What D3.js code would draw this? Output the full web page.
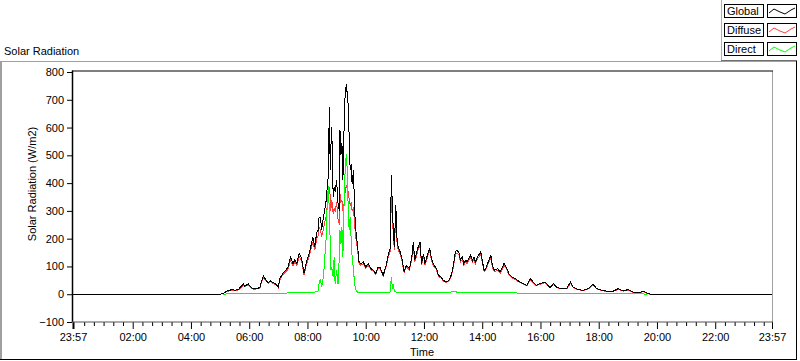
<!DOCTYPE html>
<html><head><meta charset="utf-8">
<script src="https://cdn.jsdelivr.net/npm/d3@7"></script>
<style>
html,body{margin:0;padding:0;background:#fff;}
svg{display:block;font-family:"Liberation Sans",Arial,sans-serif;font-size:11px;}
</style></head>
<body><svg id="c" width="800" height="361"></svg>
<script>
// time in minutes after midnight (-3 = 23:57 previous day)
const times = [-3,300,306,314,320,324,331,338,344,348,351,358,363,368,375,382,386,389,395,399,404,410,415,420,423,429,436,440,445,450,454,458,463,468,473,478,485,491,495,499,502,504,507,509,513,516,518,520,521,523,525,527,528,530,533,535,537,540,543,546,547,549,551,553,555,557,560,562,564,566,568,570,572,575,577,579,581,583,586,590,595,600,605,611,616,621,625,629,636,643,647,650,653,655,657,659,662,665,670,674,679,684,690,695,698,701,708,712,715,719,722,726,729,732,735,739,746,750,755,760,766,771,776,780,784,787,792,795,799,802,806,809,816,820,823,826,830,837,840,844,847,851,858,861,865,872,877,882,885,891,895,902,908,913,918,925,932,939,945,952,959,969,980,987,994,1004,1014,1022,1028,1038,1048,1059,1068,1076,1086,1097,1110,1120,1131,1141,1151,1162,1172,1179,1186,1437];
const globalVals = [0,0,3,11,14,17,14,18,29,38,29,38,26,20,20,24,50,66,50,41,48,41,36,26,56,74,88,98,134,110,124,110,147,128,75,116,156,206,170,222,230,278,278,230,278,310,330,362,400,420,675,446,520,602,350,386,370,410,326,300,590,500,545,410,566,700,758,720,680,560,446,470,398,446,302,254,200,182,118,110,116,98,110,92,86,74,98,98,68,110,147,158,430,300,230,170,320,180,158,134,82,104,92,134,188,122,170,188,110,146,110,134,152,164,134,110,92,68,62,50,44,50,68,98,146,158,152,122,134,110,122,116,140,122,134,116,134,152,122,86,92,110,140,104,86,92,80,98,113,92,74,62,56,50,44,38,32,56,44,32,38,44,24,38,24,20,20,44,24,17,14,20,36,20,14,11,11,20,12,17,8,5,11,5,0,0];
const diffuseVals = [0,0,2,9,12,15,12,16,26,34,27,33,24,18,19,22,46,60,47,39,45,38,34,24,52,69,82,90,122,102,115,104,136,120,70,108,145,188,158,200,212,240,232,206,236,262,275,300,330,345,385,350,300,340,290,310,300,330,270,250,360,330,340,300,320,360,390,380,370,340,320,330,300,310,250,220,180,168,112,104,110,93,104,88,82,70,93,94,65,104,138,146,350,275,212,160,290,168,148,127,78,99,87,126,176,115,160,176,104,138,105,127,144,155,127,104,87,64,59,47,42,47,64,92,136,148,143,115,126,104,115,110,132,115,126,110,126,143,115,81,87,104,132,98,81,87,76,92,106,87,70,59,53,47,42,36,30,52,41,30,36,41,23,35,23,19,19,40,23,16,13,19,33,19,13,10,10,18,11,15,7,4,9,4,0,0];
const directVals = [null,null,0,1,1,1,1,1,1,1,1,1,1,1,1,1,1,2,2,2,2,2,2,2,2,2,3,6,6,6,6,6,6,6,6,7,7,8,8,10,12,38,56,25,62,140,182,290,330,390,300,182,86,98,62,134,36,86,38,150,230,182,242,134,300,422,505,446,302,230,278,200,134,86,38,20,12,8,7,7,6,6,6,6,6,6,6,6,6,6,7,8,62,20,38,10,8,8,7,6,6,6,6,6,6,6,6,6,6,6,6,6,6,6,6,6,6,6,6,6,6,6,8,9,10,8,7,7,7,7,7,7,7,7,7,7,7,7,7,6,6,6,6,6,6,6,6,6,6,6,6,6,6,4,2,2,2,2,2,2,2,2,2,2,2,2,2,2,2,1,1,1,1,1,1,1,1,1,1,1,1,1,1,0,null];
const seriesNames = ["Global","Diffuse","Direct"];
const seriesColors = ["#000000","#ff3b3b","#00ff00"];
const yTicks = [-100,0,100,200,300,400,500,600,700,800];
const xTickVals = [-3,120,240,360,480,600,720,840,960,1080,1200,1320,1437];
const xTickLabels = ["23:57","02:00","04:00","06:00","08:00","10:00","12:00","14:00","16:00","18:00","20:00","22:00","23:57"];
const minorTicks = d3.range(20,1437,20).filter(m => m % 120 !== 0);

const svg = d3.select("#c");
const W = 800, H = 361;
const x = d3.scaleLinear().domain([-3,1437]).range([73,772]);
const y = d3.scaleLinear().domain([-100,800]).range([322,72]);

// outer panel
svg.append("rect").attr("x",0).attr("y",0).attr("width",W).attr("height",H).attr("fill","#fff");
svg.append("line").attr("x1",1).attr("x2",1).attr("y1",61).attr("y2",360).attr("stroke","#a0a0a0").attr("stroke-width",2);
svg.append("line").attr("x1",0).attr("x2",797).attr("y1",61.5).attr("y2",61.5).attr("stroke","#a0a0a0");
svg.append("line").attr("x1",796.5).attr("x2",796.5).attr("y1",61).attr("y2",360).attr("stroke","#000");
svg.append("line").attr("x1",0).attr("x2",797).attr("y1",359.5).attr("y2",359.5).attr("stroke","#000");

// title
svg.append("text").attr("x",4).attr("y",55).text("Solar Radiation").attr("fill","#000");

// plot frame
const g = svg.append("g");
g.append("rect").attr("x",73).attr("y",71).attr("width",699).attr("height",251).attr("fill","#fff");
g.append("line").attr("x1",772.5).attr("x2",772.5).attr("y1",71).attr("y2",322).attr("stroke","#a0a0a0");

// data lines (clip)
svg.append("clipPath").attr("id","clip").append("rect").attr("x",73).attr("y",71).attr("width",700).attr("height",251);
const plot = svg.append("g").attr("clip-path","url(#clip)");
const mk = vals => d3.line().defined((d,i)=>vals[i]!==null).x((d,i)=>x(times[i])).y((d,i)=>y(vals[i]))(times);
plot.append("path").attr("d",mk(diffuseVals)).attr("fill","none").attr("stroke",seriesColors[1]).attr("stroke-width",1).attr("shape-rendering","crispEdges");
plot.append("path").attr("d",mk(globalVals)).attr("fill","none").attr("stroke",seriesColors[0]).attr("stroke-width",1).attr("shape-rendering","crispEdges");
plot.append("path").attr("d",mk(directVals)).attr("fill","none").attr("stroke",seriesColors[2]).attr("stroke-width",1).attr("shape-rendering","crispEdges");

// axes
const yAxis = d3.axisLeft(y).tickValues(yTicks).tickSize(5).tickPadding(3).tickSizeOuter(0);
const ya = svg.append("g").attr("transform","translate(72,0)").call(yAxis);
ya.select(".domain").remove();
ya.selectAll("text").attr("font-size",11).attr("font-family","Liberation Sans, Arial, sans-serif").attr("fill","#000");
svg.append("line").attr("x1",72.5).attr("x2",72.5).attr("y1",70.5).attr("y2",322).attr("stroke","#000").attr("stroke-width",1.5);
svg.append("line").attr("x1",72).attr("x2",773).attr("y1",71).attr("y2",71).attr("stroke","#000");

const xAxis = d3.axisBottom(x).tickValues(xTickVals).tickFormat((d,i)=>xTickLabels[i]).tickSize(7).tickPadding(4).tickSizeOuter(0);
const xa = svg.append("g").attr("transform","translate(0,322)").call(xAxis);
xa.select(".domain").remove();
xa.selectAll("text").attr("font-size",11).attr("font-family","Liberation Sans, Arial, sans-serif").attr("fill","#000");
xa.selectAll(".tick").filter((d,i)=>i===0).select("line").attr("stroke-width",2);
const xm = d3.axisBottom(x).tickValues(minorTicks).tickSize(4).tickFormat("");
const xma = svg.append("g").attr("transform","translate(0,322)").call(xm);
xma.select(".domain").remove();
svg.append("line").attr("x1",72).attr("x2",773).attr("y1",322).attr("y2",322).attr("stroke","#555");

// axis titles
svg.append("text").attr("x",422).attr("y",356).attr("text-anchor","middle").text("Time");
svg.append("text").attr("transform","translate(36,184) rotate(-90)").attr("text-anchor","middle").text("Solar Radiation (W/m2)");

// legend
const lg = svg.append("g");
lg.append("rect").attr("x",721).attr("y",0).attr("width",79).attr("height",61).attr("fill","#fff");
lg.append("line").attr("x1",721.5).attr("x2",721.5).attr("y1",0).attr("y2",61).attr("stroke","#b0b0b0");
lg.append("line").attr("x1",721).attr("x2",797).attr("y1",60.5).attr("y2",60.5).attr("stroke","#707070");
const sample = [[2,9],[7,5],[13,8],[18,10],[24,6],[28,4]];
seriesNames.forEach((nm,i)=>{
  const y0 = 4 + i*19;
  lg.append("rect").attr("x",724.5).attr("y",y0+0.5).attr("width",39).attr("height",13).attr("fill","#fff").attr("stroke","#000");
  lg.append("text").attr("x",727).attr("y",y0+11).text(nm);
  lg.append("rect").attr("x",767.5).attr("y",y0+0.5).attr("width",29).attr("height",13).attr("fill","#fff").attr("stroke","#000");
  lg.append("path").attr("d",d3.line()(sample.map(p=>[767+p[0],y0+p[1]]))).attr("fill","none").attr("stroke",seriesColors[i]);
});
</script></body></html>
